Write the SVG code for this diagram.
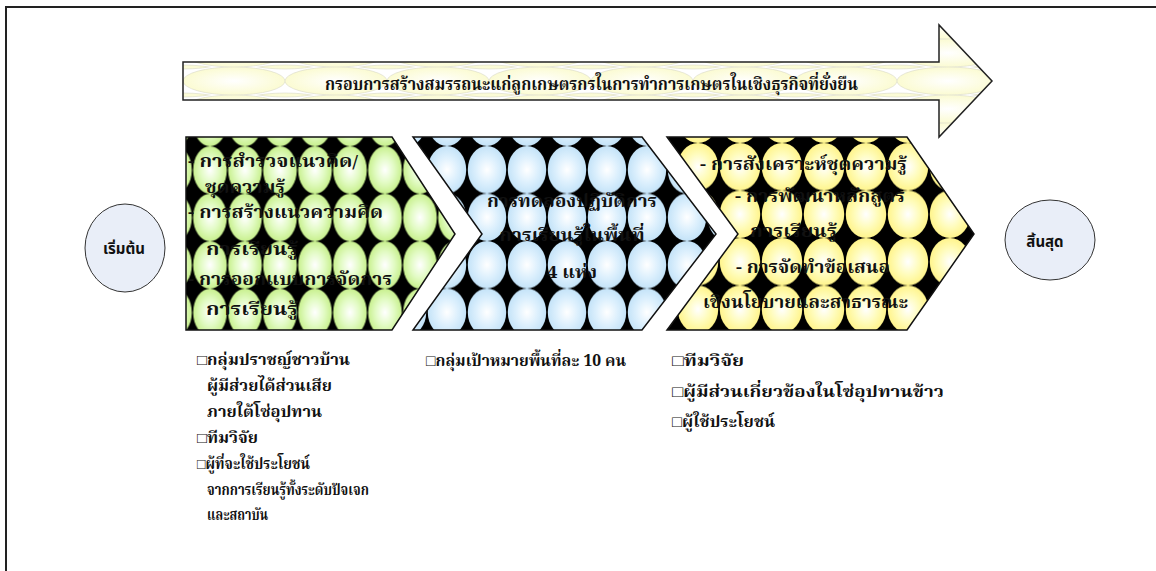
<svg xmlns="http://www.w3.org/2000/svg" width="1156" height="571" viewBox="0 0 1156 571">
<style>
.th{font-family:"Noto Serif Thai","Noto Sans Thai","Liberation Serif",serif;font-weight:bold;fill:#111;font-stretch:condensed;}
.ch{font-size:17px;}
.ls{font-size:15px;}
.lm{font-size:16px;}
.term{font-family:"Noto Sans Thai","DejaVu Sans","Noto Sans",sans-serif;font-weight:bold;font-size:15px;fill:#111;text-anchor:middle;}
.edge{stroke:#111;stroke-width:1.5;stroke-linejoin:miter;}
</style>
<defs>
<radialGradient id="gG" cx="0.5" cy="0.5" r="0.5"><stop offset="0" stop-color="#ffffff"/><stop offset="0.55" stop-color="#e2fbc4"/><stop offset="1" stop-color="#c8f08e"/></radialGradient>
<radialGradient id="gB" cx="0.5" cy="0.5" r="0.5"><stop offset="0" stop-color="#ffffff"/><stop offset="0.55" stop-color="#ddf0fd"/><stop offset="1" stop-color="#c4e3f8"/></radialGradient>
<radialGradient id="gY" cx="0.5" cy="0.5" r="0.5"><stop offset="0" stop-color="#ffffff"/><stop offset="0.55" stop-color="#fffcbc"/><stop offset="1" stop-color="#fff48c"/></radialGradient>
<radialGradient id="gA" cx="0.5" cy="0.5" r="0.5"><stop offset="0" stop-color="#ffffff"/><stop offset="1" stop-color="#fbfbd2"/></radialGradient>
<pattern id="pG" patternUnits="userSpaceOnUse" x="192.5" y="146.25" width="35" height="47.5"><rect width="35" height="47.5" fill="#000"/><ellipse cx="17.5" cy="23.75" rx="16.8" ry="23.75" fill="url(#gG)"/></pattern>
<pattern id="pB" patternUnits="userSpaceOnUse" x="427" y="146" width="40" height="47.5"><rect width="40" height="47.5" fill="#000"/><ellipse cx="20" cy="23.75" rx="19.2" ry="23.75" fill="url(#gB)"/></pattern>
<pattern id="pY" patternUnits="userSpaceOnUse" x="719" y="143" width="42" height="47.5"><rect width="42" height="47.5" fill="#000"/><ellipse cx="21" cy="23.75" rx="20.2" ry="23.75" fill="url(#gY)"/></pattern>
<pattern id="pA" patternUnits="userSpaceOnUse" x="183" y="67" width="102" height="28"><rect width="102" height="28" fill="#fff"/><g fill="url(#gA)" stroke="#d8d8c8" stroke-width="0.6"><ellipse cx="51" cy="14" rx="51" ry="14"/><ellipse cx="0" cy="-12" rx="51" ry="14"/><ellipse cx="102" cy="-12" rx="51" ry="14"/><ellipse cx="0" cy="40" rx="51" ry="14"/><ellipse cx="102" cy="40" rx="51" ry="14"/></g></pattern>
</defs>

<g id="frame"><path d="M6 571 V7 H1156" fill="none" stroke="#222" stroke-width="2"/></g>

<g id="banner">
<polygon points="183,62 939,62 939,25 992,81 939,137 939,100 183,100" fill="url(#pA)" stroke="#222" stroke-width="1.5"/>
<text class="th" x="325" y="90" font-size="17" textLength="533" lengthAdjust="spacingAndGlyphs">กรอบการสร้างสมรรถนะแก่ลูกเกษตรกรในการทำการเกษตรในเชิงธุรกิจที่ยั่งยืน</text>
</g>

<g id="start">
<ellipse cx="125" cy="248" rx="40" ry="44" fill="#e9eef8" stroke="#333" stroke-width="1"/>
<text class="term" x="124" y="254">เริ่มต้น</text>
</g>

<g id="step1">
<polygon class="edge" points="186,137 392,137 455,234 392,330 186,330" fill="url(#pG)"/>
<g class="th ch">
<text x="188" y="167" textLength="170" lengthAdjust="spacingAndGlyphs">- การสำรวจแนวคิด/</text>
<text x="205" y="193" textLength="80" lengthAdjust="spacingAndGlyphs">ชุดความรู้</text>
<text x="188" y="218" textLength="195" lengthAdjust="spacingAndGlyphs">- การสร้างแนวความคิด</text>
<text x="206" y="255" textLength="92" lengthAdjust="spacingAndGlyphs">การเรียนรู้</text>
<text x="188" y="285" textLength="204" lengthAdjust="spacingAndGlyphs">- การออกแบบการจัดการ</text>
<text x="206" y="315" textLength="92" lengthAdjust="spacingAndGlyphs">การเรียนรู้</text>
</g>
</g>

<g id="step2">
<polygon class="edge" points="413,137 642,137 716,234 642,330 413,330 482,234" fill="url(#pB)"/>
<g class="th ch" text-anchor="middle">
<text x="572" y="207" textLength="170" lengthAdjust="spacingAndGlyphs">การทดลองปฏิบัติการ</text>
<text x="572" y="241" textLength="145" lengthAdjust="spacingAndGlyphs">การเรียนรู้ในพื้นที่</text>
<text x="572" y="278" textLength="50" lengthAdjust="spacingAndGlyphs">4 แห่ง</text>
</g>
</g>

<g id="step3">
<polygon class="edge" points="667,137 907,137 974,234 907,330 667,330 738,234" fill="url(#pY)"/>
<g class="th ch">
<text x="700" y="170" textLength="207" lengthAdjust="spacingAndGlyphs">- การสังเคราะห์ชุดความรู้</text>
<text x="735" y="202" textLength="170" lengthAdjust="spacingAndGlyphs">- การพัฒนาหลักสูตร</text>
<text x="750" y="237" textLength="87" lengthAdjust="spacingAndGlyphs">การเรียนรู้</text>
<text x="736" y="273" textLength="154" lengthAdjust="spacingAndGlyphs">- การจัดทำข้อเสนอ</text>
<text x="703" y="308" textLength="205" lengthAdjust="spacingAndGlyphs">เชิงนโยบายและสาธารณะ</text>
</g>
</g>

<g id="end">
<ellipse cx="1050" cy="240" rx="45" ry="40" fill="#e9eef8" stroke="#333" stroke-width="1"/>
<text class="term" x="1045" y="247">สิ้นสุด</text>
</g>

<g id="list1" class="th ls">
<text x="197" y="365" textLength="153" lengthAdjust="spacingAndGlyphs">□กลุ่มปราชญ์ชาวบ้าน</text>
<text x="207" y="391" textLength="125" lengthAdjust="spacingAndGlyphs">ผู้มีส่วยได้ส่วนเสีย</text>
<text x="207" y="417" textLength="115" lengthAdjust="spacingAndGlyphs">ภายใต้โซ่อุปทาน</text>
<text x="197" y="443" textLength="61" lengthAdjust="spacingAndGlyphs">□ทีมวิจัย</text>
<text x="197" y="469" textLength="113" lengthAdjust="spacingAndGlyphs">□ผู้ที่จะใช้ประโยชน์</text>
<text x="207" y="495" textLength="162" lengthAdjust="spacingAndGlyphs">จากการเรียนรู้ทั้งระดับปัจเจก</text>
<text x="207" y="520" textLength="61" lengthAdjust="spacingAndGlyphs">และสถาบัน</text>
</g>

<g id="list2" class="th lm">
<text x="426" y="366" textLength="200" lengthAdjust="spacingAndGlyphs">□กลุ่มเป้าหมายพื้นที่ละ 10 คน</text>
</g>

<g id="list3" class="th lm">
<text x="672" y="366" textLength="72" lengthAdjust="spacingAndGlyphs">□ทีมวิจัย</text>
<text x="672" y="397" textLength="272" lengthAdjust="spacingAndGlyphs">□ผู้มีส่วนเกี่ยวข้องในโซ่อุปทานข้าว</text>
<text x="672" y="427" textLength="103" lengthAdjust="spacingAndGlyphs">□ผู้ใช้ประโยชน์</text>
</g>
</svg>
